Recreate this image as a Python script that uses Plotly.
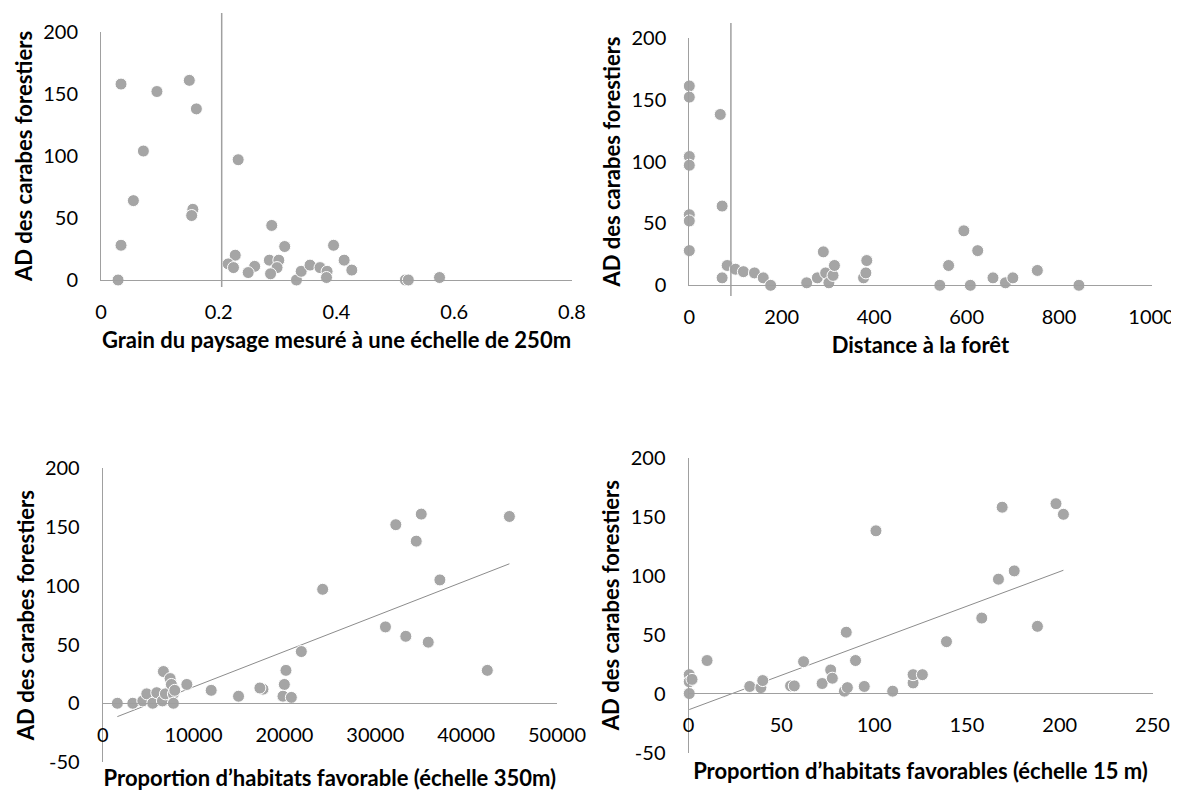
import numpy as np
import plotly.graph_objects as go

# ---------------- data ----------------
# Panel 1: grain du paysage (250 m)
grain_x = [0.034, 0.095, 0.150, 0.162, 0.072, 0.055, 0.156, 0.154, 0.034, 0.029,
           0.233, 0.290, 0.312, 0.228, 0.216, 0.225, 0.261, 0.250, 0.286, 0.302,
           0.299, 0.288, 0.332, 0.340, 0.355, 0.372, 0.384, 0.383, 0.395, 0.413,
           0.426, 0.517, 0.522, 0.575]
grain_y = [158, 152, 161, 138, 104, 64, 57, 52, 28, 0,
           97, 44, 27, 20, 13, 10, 11, 6, 16, 16,
           10, 5, 0, 7, 12, 10, 7, 2, 28, 16,
           8, 0, 0, 2]

# Panel 2: distance à la forêt
dist_x = [0, 0, 0, 0, 0, 0, 0, 67, 71, 71, 82, 100, 117, 141, 160, 176, 254, 277,
          290, 295, 302, 311, 314, 377, 382, 384, 542, 561, 594, 608, 624, 657,
          684, 700, 753, 843]
dist_y = [161, 152, 104, 97, 57, 52, 28, 138, 64, 6, 16, 13, 11, 10, 6, 0, 2, 6,
          27, 10, 2, 8, 16, 6, 10, 20, 0, 16, 44, 0, 28, 6,
          2, 6, 12, 0]

# Panel 3: proportion d'habitats favorable (350 m)
hab350_x = [1610, 3310, 4410, 4850, 5510, 5950, 6570, 6680, 6900, 7420, 7560, 7780,
            7780, 7930, 9260, 11940, 14950, 17640, 17300, 19990, 20170, 19840,
            20760, 21860, 24210, 31120, 32260, 33360, 34510, 35060, 35830, 37110,
            42330, 44760]
hab350_y = [0, 0, 2, 8, 0, 9, 2, 27, 8, 21, 16, 8,
            0, 11, 16, 11, 6, 12, 13, 16, 28, 6,
            5, 44, 97, 65, 152, 57, 138, 161, 52, 105,
            28, 159]

# Panel 4: proportion d'habitats favorables (15 m)
hab15_x = [0.4, 0.4, 1.9, 0.4, 10, 33, 39, 40, 55, 57, 62, 72, 76.6, 77.5, 84, 85.6,
           85, 90, 94.7, 101, 110, 121, 121, 126, 139, 158, 167, 169, 175.5, 188,
           198, 202]
hab15_y = [16, 10, 12, 0, 28, 6, 5, 11, 6.5, 6.5, 27, 8.5, 20, 13, 2, 5,
           52, 28, 6, 138, 2, 9, 16, 16, 44, 64, 97, 158, 104, 57,
           161, 152]

# threshold lines drawn on the top panels
grain_threshold = 0.205
dist_threshold = 90

y_label = "AD des carabes forestiers"
x_titles = ["Grain du paysage mesuré à une échelle de 250m",
            "Distance à la forêt",
            "Proportion d’habitats favorable (échelle 350m)",
            "Proportion d’habitats favorables (échelle 15 m)"]
y_ticks_top = [0, 50, 100, 150, 200]
y_ticks_bottom = [-50, 0, 50, 100, 150, 200]

# ---------------- layout helpers ----------------
# the page body has an 8px default margin, so the figure is shrunk by that amount
OFF = 8
W, H = 1179 - OFF, 791 - OFF
def fx(p):
    return (p - OFF) / W
def fy(p):
    return 1 - (p - OFF) / H

MARK = "#A5A5A5"
AXC = "#A0A0A0"
FONT = "Lato"
tickfont = dict(family=FONT, size=20, color="#000000")
titlefont = dict(family=FONT, size=22, color="#000000", weight="bold")

panels = [
    dict(x=grain_x, y=grain_y, xd=(101, 572), yd=(280, 32), xr=[0, 0.8], dx=0.2,
         yt=y_ticks_top, zero=280, trend=False, tstand=10),
    dict(x=dist_x, y=dist_y, xd=(689.3, 1151.5), yd=(285.3, 37.7), xr=[0, 1000], dx=200,
         yt=y_ticks_top, zero=285.3, trend=False, tstand=10),
    dict(x=hab350_x, y=hab350_y, xd=(102.7, 557), yd=(762, 468.3), xr=[0, 50000], dx=10000,
         yt=y_ticks_bottom, zero=703.3, trend=True, tstand=28),
    dict(x=hab15_x, y=hab15_y, xd=(688.5, 1152.5), yd=(752.5, 457.7), xr=[0, 250], dx=50,
         yt=y_ticks_bottom, zero=693.3, trend=True, tstand=28),
]

fig = go.Figure()
layout = dict(width=W, height=H, margin=dict(l=0, r=0, t=0, b=0, autoexpand=False),
              paper_bgcolor="white", plot_bgcolor="white", showlegend=False)

for i, p in enumerate(panels):
    n = "" if i == 0 else str(i + 1)
    xa, ya = "x" + n, "y" + n
    if p["trend"]:
        xs = np.array(p["x"], dtype=float)
        ys = np.array(p["y"], dtype=float)
        m, b = np.polyfit(xs, ys, 1)
        tx = np.array([xs.min(), xs.max()])
        fig.add_trace(go.Scatter(x=tx, y=m * tx + b, mode="lines",
                                 line=dict(color="#8C8C8C", width=1),
                                 xaxis=xa, yaxis=ya, hoverinfo="skip"))
    fig.add_trace(go.Scatter(x=p["x"], y=p["y"], mode="markers",
                             marker=dict(color=MARK, size=12,
                                         line=dict(color="white", width=1)),
                             cliponaxis=False, xaxis=xa, yaxis=ya))
    yr = [p["yt"][0], p["yt"][-1]]
    xax = dict(domain=[fx(p["xd"][0]), fx(p["xd"][1])], range=p["xr"], dtick=p["dx"],
               tick0=0, showgrid=False, zeroline=False, showline=True, linecolor=AXC,
               linewidth=1, ticks="", tickfont=tickfont, tickformat="d" if p["dx"] >= 1 else "",
               ticklabelstandoff=14, automargin=False,
               title=dict(text=x_titles[i], font=titlefont, standoff=p["tstand"]))
    if p["trend"]:
        xax.update(anchor="free", position=fy(p["zero"]))
    else:
        xax.update(anchor=ya)
    yax = dict(domain=[fy(p["yd"][0]), fy(p["yd"][1])], range=yr,
               tickvals=p["yt"], ticktext=[str(v) for v in p["yt"]],
               showgrid=False, zeroline=False, showline=True, linecolor=AXC,
               linewidth=1, ticks="", tickfont=tickfont, anchor=xa,
               ticklabelstandoff=18, automargin=False,
               title=dict(text=y_label, font=titlefont, standoff=4))
    layout["xaxis" + n] = xax
    layout["yaxis" + n] = yax

fig.update_layout(**layout)

# vertical threshold lines on the top panels
fig.add_shape(type="line", xref="x", yref="paper", x0=grain_threshold, x1=grain_threshold,
              y0=fy(287), y1=fy(13), line=dict(color=AXC, width=1.5))
fig.add_shape(type="line", xref="x2", yref="paper", x0=dist_threshold, x1=dist_threshold,
              y0=fy(296), y1=fy(23), line=dict(color=AXC, width=1.5))

fig.write_html("out.html")
